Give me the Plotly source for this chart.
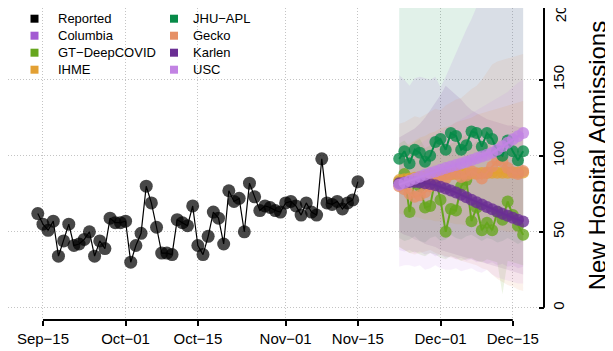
import pandas as pd
import plotly.graph_objects as go

# ---------------- data ----------------
reported_start = "2020-09-14"
reported = [62, 55, 51, 57, 34, 44, 55, 41, 42, 45, 50, 34, 44, 39, 59, 56, 56, 57,
            30, 41, 49, 80, 69, 53, 36, 36, 35, 58, 56, 54, 67, 41, 35, 47, 63, 59,
            42, 77, 70, 72, 50, 82, 73, 64, 67, 66, 64, 63, 69, 70, 67, 61, 69, 63,
            61, 98, 69, 68, 70, 65, 69, 71, 83]

forecast_start = "2020-11-23"

columbia_lo = [38, 37, 38, 36, 37, 35, 36, 34, 35, 33, 34, 32, 33, 31, 32, 30, 31, 29, 30, 28, 29, 27, 28, 26, 27]
columbia_hi = [153, 150, 146, 151, 152, 151, 150, 152, 145, 152, 160, 167, 175, 183, 190, 198, 206, 214, 222, 230, 238, 246, 254, 262, 270]

gt = [83, 88, 63, 84, 80, 66, 67, 85, 71, 50, 65, 64, 80, 84, 57, 66, 51, 56, 51, 63, 58, 70, 61, 54, 48]
gt_lo = [40, 38, 36, 37, 35, 34, 36, 35, 33, 32, 34, 33, 31, 32, 33, 31, 30, 32, 31, 30, 9, 31, 30, 29, 28]
gt_hi = [108, 110, 106, 109, 111, 105, 107, 112, 110, 104, 108, 109, 112, 114, 106, 110, 107, 109, 105, 111, 108, 110, 106, 104, 102]

ihme = [84, 84.5, 85, 85.5, 86, 86.4, 86.8, 87.1, 87.4, 87.6, 87.8, 88, 88.2, 88.3, 88.4, 88.5, 88.6, 88.7, 88.8, 88.8, 88.9, 88.9, 89, 89, 89]
ihme_lo = [62, 61, 60, 60, 59, 58, 58, 57, 57, 56, 56, 55, 55, 54, 54, 53, 53, 52, 52, 51, 51, 50, 50, 49, 49]
ihme_hi = [104, 106, 108, 110, 112, 113, 115, 116, 118, 119, 120, 122, 123, 124, 125, 127, 128, 129, 130, 131, 132, 133, 134, 135, 136]

jhu = [98, 103, 95, 104, 102, 96, 100, 109, 111, 104, 115, 113, 104, 107, 116, 115, 106, 115, 111, 103, 100, 110, 103, 97, 103]
jhu_lo = [46, 44, 45, 47, 44, 43, 46, 47, 44, 45, 48, 46, 45, 47, 48, 46, 44, 46, 45, 43, 44, 46, 44, 42, 44]
jhu_hi = [262, 265, 268, 270, 272, 275, 278, 280, 282, 285, 288, 290, 292, 295, 298, 300, 302, 305, 308, 310, 312, 315, 318, 320, 322]

gecko = [80, 78, 75, 73, 74, 76, 80, 84, 87, 85, 88, 89, 86, 87, 90, 88, 85, 89, 93, 97, 96, 92, 89, 88, 90]
gecko_lo = [40, 38, 36, 35, 36, 37, 38, 36, 35, 34, 33, 32, 31, 30, 29, 28, 26, 25, 22, 19, 17, 15, 14, 12, 11]
gecko_hi = [121, 122, 124, 126, 125, 127, 129, 131, 130, 133, 135, 137, 138, 141, 144, 146, 150, 155, 160, 162, 163, 164, 165, 166, 167]

karlen = [82, 82.5, 82.8, 82.8, 82.5, 82, 81.4, 80.6, 79.6, 78.5, 77.2, 75.8, 74.3, 72.7, 71.1, 69.5, 67.9, 66.3, 64.8, 63.3, 61.9, 60.5, 59.2, 58, 56.8]
karlen_lo = [50, 48, 47, 45, 44, 42, 41, 40, 38, 37, 36, 35, 34, 33, 32, 31, 30, 29, 28, 27, 26, 25, 24, 23, 22]
karlen_hi = [112, 114, 116, 118, 121, 125, 130, 135, 140, 146, 143, 140, 137, 133, 130, 128, 126, 124, 123, 122, 121, 120, 120, 119, 118]

usc = [81, 82.3, 83.6, 84.9, 86.2, 87.5, 88.6, 89.7, 90.8, 91.9, 93, 94, 95, 96.1, 97.2, 98.3, 99.5, 100.7, 102, 104, 106.2, 108.6, 110.8, 112.9, 115]
usc_lo = [27, 28, 28, 27, 28, 25, 26, 28, 26, 25, 25, 26, 24, 25, 26, 24, 23, 25, 22, 20, 19, 18, 17, 16, 16]
usc_hi = [100, 102, 104, 106, 108, 110, 112, 114, 116, 118, 120, 122, 124, 126, 128, 130, 132, 134, 136, 138, 140, 142, 145, 148, 150]

tick_dates = ["2020-09-15", "2020-10-01", "2020-10-15", "2020-11-01", "2020-11-15", "2020-12-01", "2020-12-15"]
tick_labels = ["Sep\u221215", "Oct\u221201", "Oct\u221215", "Nov\u221201", "Nov\u221215", "Dec\u221201", "Dec\u221215"]
y_ticks = [0, 50, 100, 150]

legend_col1 = ["Reported", "Columbia", "GT\u2212DeepCOVID", "IHME"]
legend_col2 = ["JHU\u2212APL", "Gecko", "Karlen", "USC"]

# ---------------- style ----------------
FONT = "Liberation Sans, Arial, Helvetica, sans-serif"
colors = {
    "Reported": "#000000",
    "Columbia": "#A35AD2",
    "GT\u2212DeepCOVID": "#66A61E",
    "IHME": "#E3A033",
    "JHU\u2212APL": "#078A48",
    "Gecko": "#E69066",
    "Karlen": "#6A2E93",
    "USC": "#C283E3",
}


def rgba(hexc, a):
    h = hexc.lstrip("#")
    r, g, b = int(h[0:2], 16), int(h[2:4], 16), int(h[4:6], 16)
    return f"rgba({r},{g},{b},{a})"


rep_dates = pd.date_range(reported_start, periods=len(reported), freq="D")
fc_dates = pd.date_range(forecast_start, periods=len(karlen), freq="D")

fig = go.Figure()

bands = [
    ("JHU\u2212APL", jhu_lo, jhu_hi),
    ("Columbia", columbia_lo, columbia_hi),
    ("Karlen", karlen_lo, karlen_hi),
    ("Gecko", gecko_lo, gecko_hi),
    ("IHME", ihme_lo, ihme_hi),
    ("GT\u2212DeepCOVID", gt_lo, gt_hi),
    ("USC", usc_lo, usc_hi),
]
for name, lo, hi in bands:
    fig.add_trace(go.Scatter(x=fc_dates, y=hi, mode="lines", line=dict(width=0),
                             showlegend=False, hoverinfo="skip"))
    fig.add_trace(go.Scatter(x=fc_dates, y=lo, mode="lines", line=dict(width=0),
                             fill="tonexty", fillcolor=rgba(colors[name], 0.12),
                             showlegend=False, hoverinfo="skip"))

# reported
fig.add_trace(go.Scatter(x=rep_dates, y=reported, mode="lines+markers", name="Reported",
                         line=dict(color="black", width=1.2),
                         marker=dict(size=13, color="rgba(0,0,0,0.72)", line=dict(width=0)),
                         showlegend=False))

series = [
    ("GT\u2212DeepCOVID", gt),
    ("IHME", ihme),
    ("Gecko", gecko),
    ("JHU\u2212APL", jhu),
    ("Karlen", karlen),
    ("USC", usc),
]
for name, vals in series:
    fig.add_trace(go.Scatter(x=fc_dates, y=vals, mode="lines+markers", name=name,
                             line=dict(color=colors[name], width=2),
                             marker=dict(size=12, color=rgba(colors[name], 0.78), line=dict(width=0)),
                             showlegend=False))

x_range = ["2020-09-08 05:31", "2020-12-21 01:00"]
y_range = [-8.0, 197.2]

# ---- legend drawn in paper coordinates (two columns, R-style filled squares) ----
PW, PH = 536.0, 312.0           # plot area size in px
row_px = [10.7, 27.7, 44.7, 61.7]
legend_shapes, legend_ann = [], []
for names, sq_cx, txt_x in ((legend_col1, 26.5, 47.5), (legend_col2, 166.0, 182.5)):
    for n, ry in zip(names, row_px):
        legend_shapes.append(dict(type="rect", xref="paper", yref="paper",
                                  x0=(sq_cx - 4) / PW, x1=(sq_cx + 4) / PW,
                                  y0=1 - (ry + 4) / PH, y1=1 - (ry - 4) / PH,
                                  fillcolor=colors[n], line=dict(width=0), layer="above"))
        legend_ann.append(dict(text=n, xref="paper", yref="paper", x=txt_x / PW, y=1 - ry / PH,
                               xanchor="left", yanchor="middle", showarrow=False,
                               font=dict(size=13, family=FONT, color="black")))

GRID = dict(showgrid=True, gridcolor="#C4C4C4", griddash="1px,2px", gridwidth=1)

fig.update_layout(
    width=613, height=351,
    margin=dict(l=0, r=77, t=0, b=39),
    paper_bgcolor="white", plot_bgcolor="white",
    font=dict(family=FONT, color="black"),
    showlegend=False,
    xaxis=dict(range=x_range, tickvals=tick_dates, ticktext=tick_labels,
               zeroline=False, showline=False,
               ticks="outside", ticklen=5, tickwidth=1.5, tickcolor="black",
               tickfont=dict(size=15, family=FONT, color="black"), **GRID),
    yaxis=dict(range=y_range, tickvals=y_ticks, side="right",
               zeroline=False, showline=False,
               ticks="inside", ticklen=5, tickwidth=1.5, tickcolor="black",
               tickangle=-90, ticklabelstandoff=4,
               tickfont=dict(size=15, family=FONT, color="black"), **GRID),
    shapes=[
        dict(type="line", xref="x", yref="paper", x0=tick_dates[0], x1=tick_dates[-1],
             y0=0, y1=0, line=dict(color="black", width=2)),
        dict(type="line", xref="paper", yref="y", x0=1, x1=1, y0=y_ticks[0], y1=y_range[1],
             line=dict(color="black", width=2)),
    ] + legend_shapes,
    annotations=[
        dict(text="New Hospital Admissions", xref="paper", yref="paper", x=1.099, y=0.525,
             xanchor="center", yanchor="middle", textangle=-90, showarrow=False,
             font=dict(size=24, family=FONT, color="black")),
        dict(text="200", xref="paper", yref="paper", x=1.0315, y=0.9955,
             xanchor="center", yanchor="middle", textangle=-90, showarrow=False,
             font=dict(size=15, family=FONT, color="black")),
    ] + legend_ann,
)

fig.write_html("out.html")
